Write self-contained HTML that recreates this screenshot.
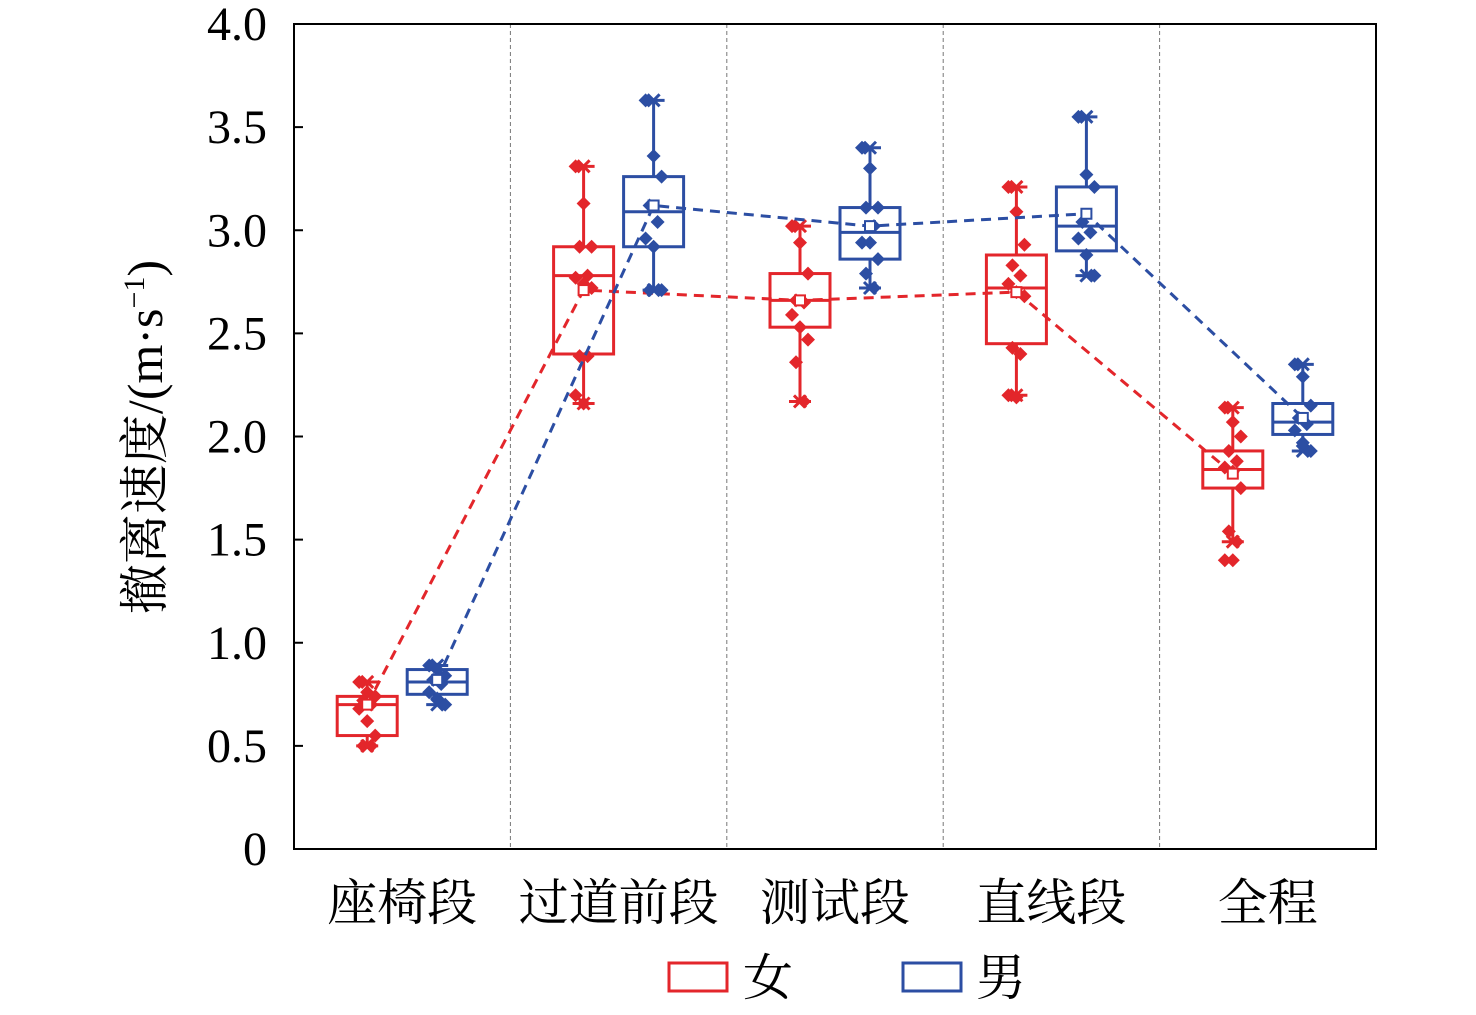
<!DOCTYPE html>
<html><head><meta charset="utf-8"><style>
html,body{margin:0;padding:0;background:#fff;}
svg text{font-family:"Liberation Serif","Noto Serif CJK SC",serif;}
</style></head><body>
<svg id="chart" width="1476" height="1010" xmlns="http://www.w3.org/2000/svg">
<g id="grid"></g><g id="axes"></g><g id="marks"></g><g id="labels"></g>
</svg>
<script>
const categories = ["座椅段","过道前段","测试段","直线段","全程"];
const yTicks = [0,0.5,1.0,1.5,2.0,2.5,3.0,3.5,4.0];
const yTickLabels = ["0","0.5","1.0","1.5","2.0","2.5","3.0","3.5","4.0"];
const seriesNames = ["女","男"];
// [min, q1, median, q3, max]
const femaleBox = [[0.50,0.55,0.70,0.74,0.81],[2.16,2.40,2.78,2.92,3.31],[2.17,2.53,2.66,2.79,3.02],[2.20,2.45,2.72,2.88,3.21],[1.49,1.75,1.84,1.93,2.14]];
const maleBox = [[0.70,0.75,0.81,0.87,0.89],[2.71,2.92,3.09,3.26,3.63],[2.72,2.86,2.99,3.11,3.40],[2.78,2.90,3.02,3.21,3.55],[1.93,2.01,2.07,2.16,2.35]];
const femaleMean = [0.70,2.71,2.66,2.70,1.82];
const maleMean = [0.82,3.12,3.02,3.08,2.09];
const femalePoints = [[0.81,0.76,0.74,0.72,0.70,0.68,0.62,0.55,0.50,0.50],[3.31,3.13,2.92,2.92,2.78,2.77,2.74,2.72,2.39,2.39,2.20,2.16],[3.02,2.94,2.79,2.66,2.65,2.59,2.53,2.47,2.36,2.17],[3.21,3.09,2.93,2.83,2.78,2.74,2.70,2.68,2.43,2.40,2.20,2.19],[2.14,2.07,2.00,1.93,1.88,1.85,1.83,1.75,1.54,1.49,1.40,1.40]];
const malePoints = [[0.89,0.87,0.84,0.82,0.80,0.76,0.73,0.70],[3.63,3.36,3.26,3.12,3.04,2.96,2.92,2.71,2.71],[3.40,3.30,3.11,3.11,3.02,2.94,2.94,2.86,2.79,2.72],[3.55,3.27,3.21,3.04,2.99,2.96,2.88,2.78],[2.35,2.29,2.15,2.09,2.06,2.03,1.97,1.93]];

const NS="http://www.w3.org/2000/svg";
const L=294,R=1376,T=24,B=849,yMax=4;
const y=v=>B-(v/yMax)*(B-T);
const bandW=(R-L)/categories.length;
const xc=i=>L+bandW*(i+0.5);
function mk(tag,attrs,parent){const e=document.createElementNS(NS,tag);for(const k in attrs)e.setAttribute(k,attrs[k]);parent.appendChild(e);return e;}
const grid=document.getElementById('grid'),axes=document.getElementById('axes'),marks=document.getElementById('marks'),labels=document.getElementById('labels');

for(let i=1;i<categories.length;i++){
  const l=mk('line',{x1:L+bandW*i,x2:L+bandW*i,y1:T,y2:B,stroke:'#777','stroke-width':1,'stroke-dasharray':'4,3'},grid);
  
  
}
const frame=mk('rect',{x:L,y:T,width:R-L,height:B-T,fill:'none',stroke:'#000','stroke-width':2},axes);


yTicks.forEach((v,i)=>{
  const tk=mk('line',{x1:L,x2:L+9,y1:y(v),y2:y(v),stroke:'#000','stroke-width':2},axes);
  
  
  const t=mk('text',{x:267,y:y(v)+16,'text-anchor':'end','font-size':48},labels);
  t.textContent=yTickLabels[i];
  
  
});
categories.forEach((c,i)=>{
  const t=mk('text',{x:xc(i),y:920,'text-anchor':'middle','font-size':50},labels);
  t.textContent=c;
  
  
});
const yt=mk('text',{x:0,y:0,'text-anchor':'middle','font-size':50,transform:'translate(162,437) rotate(-90)'},labels);
yt.innerHTML='撤离速度/(m·s<tspan dy="-18" font-size="30">−1</tspan><tspan dy="18">)</tspan>';



const series=[{box:femaleBox,mean:femaleMean,pts:femalePoints,color:'#e3262b',off:-35,name:'female'},{box:maleBox,mean:maleMean,pts:malePoints,color:'#2c4ea3',off:35,name:'male'}];
series.forEach(s=>{
  const g=mk('g',{},marks);
  
  
  s.box.forEach((b,i)=>{
    const cx=xc(i)+s.off,w=60;
    const wl=mk('line',{x1:cx,x2:cx,y1:y(b[0]),y2:y(b[4]),stroke:s.color,'stroke-width':3},g);
    
    
    [b[0],b[4]].forEach(v=>{
      const cap=mk('line',{x1:cx-11,x2:cx+11,y1:y(v),y2:y(v),stroke:s.color,'stroke-width':3},g);
      
      
      const xm=mk('path',{d:`M${cx-6} ${y(v)-6}L${cx+6} ${y(v)+6}M${cx+6} ${y(v)-6}L${cx-6} ${y(v)+6}`,stroke:s.color,'stroke-width':3},g);
      
      
    });
    const r=mk('rect',{x:cx-w/2,y:y(b[3]),width:w,height:y(b[1])-y(b[3]),fill:'#fff',stroke:s.color,'stroke-width':3},g);
    
    
    const md=mk('line',{x1:cx-w/2,x2:cx+w/2,y1:y(b[2]),y2:y(b[2]),stroke:s.color,'stroke-width':3},g);
    
    
    s.pts[i].forEach((v,j)=>{
      const dx=((j*7)%5-2)*4;
      const px=cx+dx,py=y(v);
      const d=mk('path',{d:`M${px} ${py-7}L${px+7} ${py}L${px} ${py+7}L${px-7} ${py}Z`,fill:s.color},g);
      
      
    });
  });
  const pl=mk('polyline',{points:s.mean.map((v,i)=>`${xc(i)+s.off},${y(v)}`).join(' '),fill:'none',stroke:s.color,'stroke-width':3,'stroke-dasharray':'10,7'},g);
  
  
  s.mean.forEach((v,i)=>{
    const m=mk('rect',{x:xc(i)+s.off-5,y:y(v)-5,width:10,height:10,fill:'#fff',stroke:s.color,'stroke-width':2},g);
    
    
  });
});
const lg=mk('g',{},labels);


[[669,'#e3262b',743],[903,'#2c4ea3',976]].forEach((p,i)=>{
  const r=mk('rect',{x:p[0],y:963,width:58,height:28,fill:'#fff',stroke:p[1],'stroke-width':3},lg);
  
  
  const t=mk('text',{x:p[2],y:995,'font-size':50},lg);
  t.textContent=seriesNames[i];
  
  
});
</script>
</body></html>
